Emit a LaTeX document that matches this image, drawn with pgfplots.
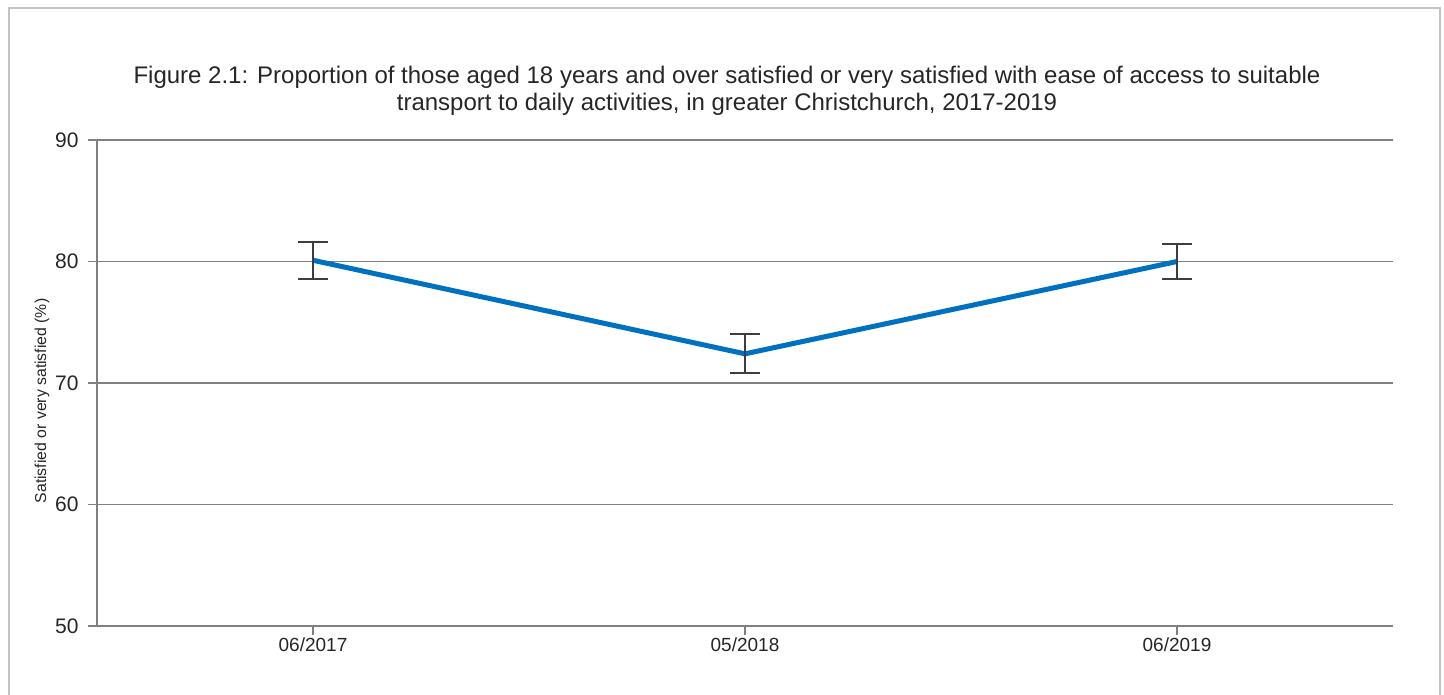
\documentclass[border=0pt]{standalone}
\usepackage{fontspec}
\setmainfont{Liberation Sans}
\usepackage{pgfplots}
\pgfplotsset{compat=1.18}
\definecolor{lineblue}{RGB}{0,112,192}
\definecolor{gridgray}{RGB}{128,128,128}
\definecolor{errgray}{RGB}{60,60,70}
\definecolor{framegray}{RGB}{195,195,195}
\begin{document}
\begin{tikzpicture}[x=1pt,y=1pt]
\useasboundingbox (0,0) rectangle (722,347.5);
\draw[framegray, line width=1pt] (4.5,-5) -- (4.5,343.5) -- (720,343.5) -- (720,-5);
\node[align=center, font=\fontsize{12}{13.5}\selectfont, text=black!85] at (363.5,302.25)
 {Figure 2.1: Proportion of those aged 18 years and over satisfied or very satisfied with ease of access to suitable\\transport to daily activities, in greater Christchurch, 2017-2019};
\begin{axis}[
  at={(48.5pt,34.5pt)}, anchor=south west,
  scale only axis, width=648pt, height=243pt,
  xmin=-0.5, xmax=2.5, ymin=50, ymax=90,
  xtick={0,1,2}, xticklabels={06/2017,05/2018,06/2019},
  ytick={50,60,70,80,90},
  axis lines*=left,
  ymajorgrids,
  grid style={gridgray, line width=0.75pt},
  axis line style={gridgray, line width=0.75pt},
  tick style={gridgray, line width=0.75pt},
  tick align=outside,
  major tick length=4.5pt,
  /pgf/number format/assume math mode=true,
  yticklabel style={anchor=east, inner sep=0pt, xshift=-4.5pt, font=\fontsize{10.5}{12}\selectfont, text=black!85},
  xticklabel style={anchor=north, inner sep=0pt, yshift=-1pt, font=\fontsize{9.5}{11}\selectfont, text=black!85},
  ylabel={Satisfied or very satisfied (\%)},
  every axis y label/.style={at={(axis description cs:0,0.5)}, xshift=-27.5pt, yshift=-9pt, rotate=90, anchor=center, font=\fontsize{7.9}{9}\selectfont, text=black!85},
  clip=false,
]
\addplot[lineblue, line width=2.5pt, mark=none, line join=round,
  error bars/.cd, y dir=both, y explicit,
  error bar style={errgray, line width=1.25pt},
  error mark options={rotate=90, mark size=7.5pt, errgray, line width=1pt}]
  coordinates {(0,80.1) +- (0,1.5) (1,72.4) +- (0,1.6) (2,80.0) +- (0,1.45)};
\end{axis}
\end{tikzpicture}
\end{document}
